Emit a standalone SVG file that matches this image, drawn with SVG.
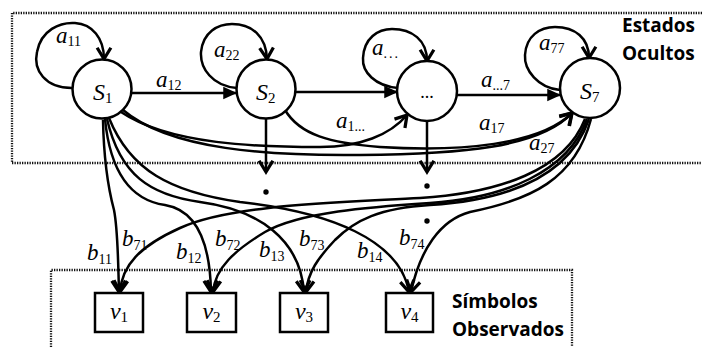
<svg xmlns="http://www.w3.org/2000/svg" width="702" height="347" viewBox="0 0 702 347">
<defs>
<style>
.bd{fill:none;stroke:#111;stroke-width:2.3;stroke-dasharray:1.3 1.2}
.nd{fill:#fff;stroke:#000;stroke-width:2.5}
.co{fill:none;stroke:#000;stroke-width:2.5;marker-end:url(#open)}
.cf{fill:none;stroke:#000;stroke-width:2.5;marker-end:url(#fill)}
.lab{font-family:"Liberation Serif",serif;font-style:italic;font-size:23px;fill:#000}
.sub{font-style:normal;font-size:14px}
.nl{font-family:"Liberation Serif",serif;font-style:italic;font-size:24px;fill:#000}
.nsub{font-style:normal;font-size:15px}
.ttl{font-family:"Open Sans",sans-serif;font-weight:bold;font-size:19px;fill:#000}
</style>
<marker id="open" markerUnits="userSpaceOnUse" markerWidth="20" markerHeight="20" viewBox="-12 -8 16 16" refX="0" refY="0" orient="auto">
<path d="M-9,-5.5 L0,0 L-9,5.5" fill="none" stroke="#000" stroke-width="2.6"/>
</marker>
<marker id="fill" markerUnits="userSpaceOnUse" markerWidth="20" markerHeight="20" viewBox="-12 -8 16 16" refX="0" refY="0" orient="auto">
<path d="M-11,-5 L0,0 L-11,5 Z" fill="#000"/>
</marker>
</defs>
<rect width="702" height="347" fill="#fff"/>

<g id="region-hidden">
<polyline class="bd" points="702,13 12,13 12,163 702,163"/>
<text class="ttl" x="622" y="32">Estados</text>
<text class="ttl" x="622" y="60">Ocultos</text>
</g>
<g id="region-observed">
<polyline class="bd" points="51,347 51,270 572,270 572,347"/>
<text class="ttl" x="452" y="308">Símbolos</text>
<text class="ttl" x="452" y="336">Observados</text>
</g>

<g id="connectors">
<path class="co" d="M72,88 C45,88 33,70 37,52 C41,30 60,22 75,23 C92,24 104,38 104,59"/>
<path class="co" d="M237,88 C212,86 200,68 201,52 C203,32 218,24 232,24 C252,24 266,36 267,59"/>
<path class="co" d="M398,88 C375,86 362,72 363,58 C364,38 378,29 392,29 C412,29 427,40 427,61"/>
<path class="co" d="M560,90 C538,88 524,70 525,55 C526,36 540,27 555,27 C575,27 589,38 589,58"/>
<path class="cf" d="M131,93 L237,93"/>
<path class="cf" d="M295,92 L398,92"/>
<path class="cf" d="M457,95 L561,95"/>
<path class="co" d="M121,112 C170,145 260,147 320,147 C360,147 390,135 407,115"/>
<path class="co" d="M123,110 C170,150 270,156 360,155 C460,154 540,148 572,113"/>
<path class="co" d="M285,110 C300,135 330,143 380,147 C460,152 540,145 572,113"/>
<path class="co" d="M266,119 L266,172"/>
<path class="co" d="M427,121 L427,172"/>
<path class="co" d="M103,120 C104,170 110,195 114,210 C118,230 118,260 119,292"/>
<path class="co" d="M105,119 C110,170 130,200 165,205 C195,210 210,240 211,292"/>
<path class="co" d="M107,119 C120,175 150,195 200,202 C260,210 300,240 304,292"/>
<path class="co" d="M109,118 C130,170 170,192 240,202 C330,212 400,240 409,292"/>
<path class="co" d="M585,119 C565,170 500,193 420,198 C330,203 230,205 180,228 C140,246 122,265 120,292"/>
<path class="co" d="M587,119 C568,172 505,198 430,203 C370,207 300,212 265,232 C235,250 215,268 213,292"/>
<path class="co" d="M589,119 C570,175 510,200 430,205 C380,208 355,220 335,240 C318,258 308,272 306,292"/>
<path class="co" d="M591,119 C575,180 530,200 470,212 C440,220 420,250 411,292"/>
<circle cx="266" cy="192" r="2.7" fill="#000"/>
<circle cx="427" cy="186" r="2.7" fill="#000"/>
<circle cx="427" cy="221" r="2.7" fill="#000"/>
</g>

<g id="S1">
<circle class="nd" cx="102" cy="89" r="29.5"/>
<text class="nl" x="93" y="100">S<tspan class="nsub" dy="3">1</tspan></text>
</g>
<g id="S2">
<circle class="nd" cx="266" cy="89" r="29.5"/>
<text class="nl" x="256" y="100">S<tspan class="nsub" dy="3">2</tspan></text>
</g>
<g id="Sdots">
<circle class="nd" cx="427" cy="91" r="30"/>
<text x="427" y="98" text-anchor="middle" font-family="Liberation Serif, serif" font-size="18">...</text>
</g>
<g id="S7">
<circle class="nd" cx="590" cy="88" r="30"/>
<text class="nl" x="580" y="99">S<tspan class="nsub" dy="3">7</tspan></text>
</g>

<g id="v1">
<rect class="nd" x="95" y="293" width="48" height="39"/>
<text class="nl" x="119" y="319" text-anchor="middle">v<tspan class="nsub" dy="3">1</tspan></text>
</g>
<g id="v2">
<rect class="nd" x="187" y="293" width="49" height="39"/>
<text class="nl" x="211.5" y="319" text-anchor="middle">v<tspan class="nsub" dy="3">2</tspan></text>
</g>
<g id="v3">
<rect class="nd" x="280" y="293" width="48" height="39"/>
<text class="nl" x="304" y="319" text-anchor="middle">v<tspan class="nsub" dy="3">3</tspan></text>
</g>
<g id="v4">
<rect class="nd" x="386" y="293" width="47" height="39"/>
<text class="nl" x="409.5" y="319" text-anchor="middle">v<tspan class="nsub" dy="3">4</tspan></text>
</g>

<g id="labels">
<text class="lab" x="56" y="43">a<tspan class="sub" dy="3">11</tspan></text>
<text class="lab" x="214" y="57">a<tspan class="sub" dy="3">22</tspan></text>
<text class="lab" x="372" y="55">a<tspan class="sub" dy="3" font-size="16" letter-spacing="2">...</tspan></text>
<text class="lab" x="539" y="50">a<tspan class="sub" dy="3">77</tspan></text>
<text class="lab" x="156" y="87">a<tspan class="sub" dy="3">12</tspan></text>
<text class="lab" x="481" y="87">a<tspan class="sub" dy="3">...7</tspan></text>
<text class="lab" x="336" y="128">a<tspan class="sub" dy="3">1...</tspan></text>
<text class="lab" x="479" y="130">a<tspan class="sub" dy="3">17</tspan></text>
<text class="lab" x="529" y="150">a<tspan class="sub" dy="3">27</tspan></text>
<text class="lab" x="87" y="260">b<tspan class="sub" dy="4">11</tspan></text>
<text class="lab" x="122" y="246">b<tspan class="sub" dy="4">71</tspan></text>
<text class="lab" x="176" y="259">b<tspan class="sub" dy="4">12</tspan></text>
<text class="lab" x="215" y="246">b<tspan class="sub" dy="4">72</tspan></text>
<text class="lab" x="259" y="257">b<tspan class="sub" dy="4">13</tspan></text>
<text class="lab" x="299" y="246">b<tspan class="sub" dy="4">73</tspan></text>
<text class="lab" x="357" y="258">b<tspan class="sub" dy="4">14</tspan></text>
<text class="lab" x="399" y="245">b<tspan class="sub" dy="4">74</tspan></text>
</g>
</svg>
